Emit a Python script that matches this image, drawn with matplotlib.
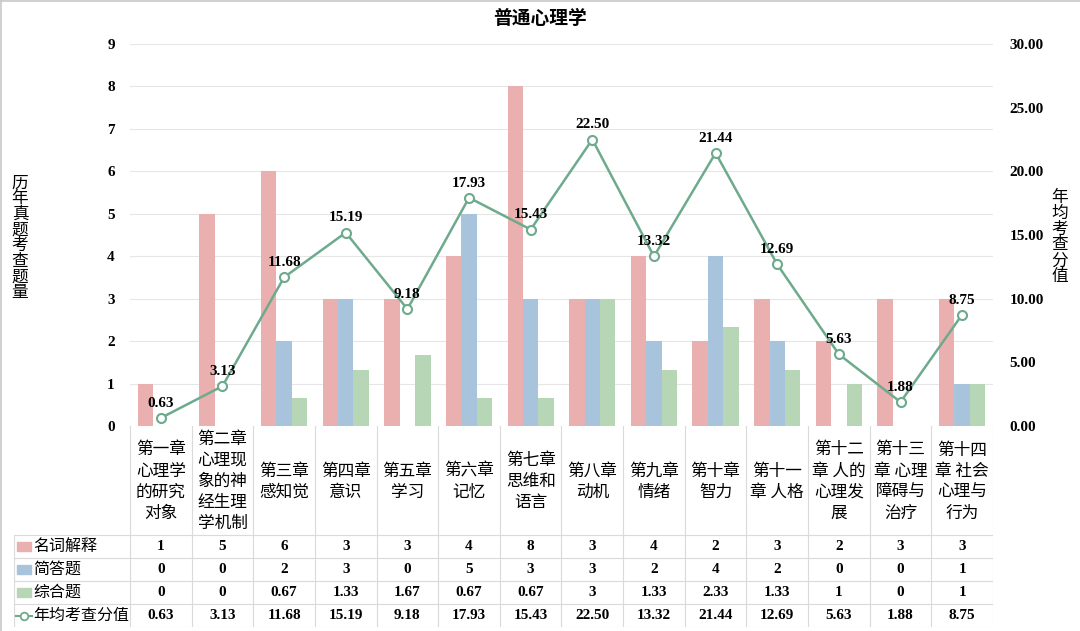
import numpy as np
import matplotlib.pyplot as plt
from matplotlib.patches import Rectangle
from matplotlib.lines import Line2D

# 数据
章节 = ["第一章\n心理学\n的研究\n对象", "第二章\n心理现\n象的神\n经生理\n学机制", "第三章\n感知觉",
      "第四章\n意识", "第五章\n学习", "第六章\n记忆", "第七章\n思维和\n语言", "第八章\n动机",
      "第九章\n情绪", "第十章\n智力", "第十一\n章 人格", "第十二\n章 人的\n心理发\n展",
      "第十三\n章 心理\n障碍与\n治疗", "第十四\n章 社会\n心理与\n行为"]
名词解释 = [1, 5, 6, 3, 3, 4, 8, 3, 4, 2, 3, 2, 3, 3]
简答题 = [0, 0, 2, 3, 0, 5, 3, 3, 2, 4, 2, 0, 0, 1]
综合题 = [0, 0, 0.67, 1.33, 1.67, 0.67, 0.67, 3, 1.33, 2.33, 1.33, 1, 0, 1]
年均分值 = [0.63, 3.13, 11.68, 15.19, 9.18, 17.93, 15.43, 22.50, 13.32, 21.44, 12.69, 5.63, 1.88, 8.75]

c_pink = '#EAAFAF'
c_blue = '#A8C4DD'
c_green = '#B6D6B6'
c_line = '#6EAA8C'
c_grid = '#E6E6E6'
c_tab = '#DADADA'

num_font = ['Liberation Serif', 'Noto Sans CJK SC']
cjk_font = ['Noto Sans CJK SC', 'DejaVu Sans']
plt.rcParams['font.family'] = num_font

W, H = 1080, 631
fig = plt.figure(figsize=(W / 100, H / 100), dpi=100)
fig.add_artist(Line2D([0, 1], [1 - 1 / H, 1 - 1 / H], transform=fig.transFigure, color='#C8C8C8', lw=1.2))
fig.add_artist(Line2D([1 / W, 1 / W], [0, 1], transform=fig.transFigure, color='#C8C8C8', lw=1.2))

# 主图区域
x_l, x_r, y_t, y_b = 130, 993, 44, 426
ax = fig.add_axes([x_l / W, 1 - y_b / H, (x_r - x_l) / W, (y_b - y_t) / H])
n = len(章节)
x = np.arange(n)
w = 0.25
ax.bar(x - w, 名词解释, w, color=c_pink, zorder=2)
ax.bar(x, 简答题, w, color=c_blue, zorder=2)
ax.bar(x + w, 综合题, w, color=c_green, zorder=2)
ax.set_xlim(-0.5, n - 0.5)
ax.set_ylim(0, 9)
ax.set_yticks(range(10))
ax.yaxis.grid(True, color=c_grid, lw=0.8, zorder=0)
ax.set_xticks([])
for s in ax.spines.values():
    s.set_visible(False)
ax.tick_params(axis='y', length=0, pad=11, labelsize=11)
for t in ax.get_yticklabels():
    t.set_fontweight('bold')

ax2 = ax.twinx()
ax2.plot(x, 年均分值, color=c_line, lw=1.8, marker='o', ms=6.5, mfc='white', mec=c_line, mew=1.5, zorder=3)
ax2.set_ylim(0, 30)
ax2.set_yticks(np.arange(0, 31, 5))
ax2.set_yticklabels([f"{v:.2f}" for v in np.arange(0, 31, 5)])
for s in ax2.spines.values():
    s.set_visible(False)
ax2.tick_params(axis='y', length=0, pad=12, labelsize=11)
for t in ax2.get_yticklabels():
    t.set_fontweight('bold')
for i, v in enumerate(年均分值):
    ax2.annotate(f"{v:.2f}", (i, v), xytext=(0, 10.5), textcoords='offset points',
                 ha='center', va='center', fontsize=11, fontweight='bold')

fig.text(0.5, 1 - 18 / H, "普通心理学", ha='center', va='center', fontsize=13.5,
         fontweight='bold', family=cjk_font)
fig.text(20 / W, 1 - 238 / H, "\n".join("历年真题考查题量"), ha='center', va='center',
         fontsize=12, family=cjk_font, linespacing=0.9)
fig.text(1060 / W, 1 - 237 / H, "\n".join("年均考查分值"), ha='center', va='center',
         fontsize=12, family=cjk_font, linespacing=0.92)

# 数据表
t_l, t_b = 14, 627
col_px = (x_r - x_l) / n
x_min = -0.5 - (x_l - t_l) / col_px
row_h = 23
hdr = (535 - y_b) / row_h
tax = fig.add_axes([t_l / W, 1 - t_b / H, (x_r - t_l) / W, (t_b - y_b) / H])
tax.set_xlim(x_min, n - 0.5)
tax.set_ylim(hdr + 4, 0)
tax.axis('off')

for k in range(n + 1):
    tax.plot([k - 0.5, k - 0.5], [0, hdr + 4], color=c_tab, lw=0.8)
tax.plot([x_min, x_min], [hdr, hdr + 4], color=c_tab, lw=0.8)
for r in range(5):
    tax.plot([x_min, n - 0.5], [hdr + r, hdr + r], color=c_tab, lw=0.8)

for i, lab in enumerate(章节):
    tax.text(i, hdr / 2 + 0.05, lab, ha='center', va='center', fontsize=12,
             family=cjk_font, linespacing=1.32)

rows = [("名词解释", 名词解释, c_pink), ("简答题", 简答题, c_blue),
        ("综合题", 综合题, c_green), ("年均考查分值", 年均分值, c_line)]
for r, (name, vals, col) in enumerate(rows):
    yc = hdr + r + 0.5
    if r < 3:
        tax.add_patch(Rectangle((x_min + 0.05, yc - 0.2), 0.23, 0.4, color=col))
        strs = [f"{v:g}" for v in vals]
    else:
        tax.plot([x_min + 0.04, x_min + 0.29], [yc, yc], color=col, lw=1.5)
        tax.plot([x_min + 0.165], [yc], marker='o', ms=5.5, mfc='white', mec=col, mew=1.3)
        strs = [f"{v:.2f}" for v in vals]
    tax.text(x_min + 0.31, yc, name, ha='left', va='center', fontsize=11.5, family=cjk_font)
    for i, s in enumerate(strs):
        tax.text(i, yc, s, ha='center', va='center', fontsize=11, fontweight='bold')

fig.savefig('out.png', dpi=100)
